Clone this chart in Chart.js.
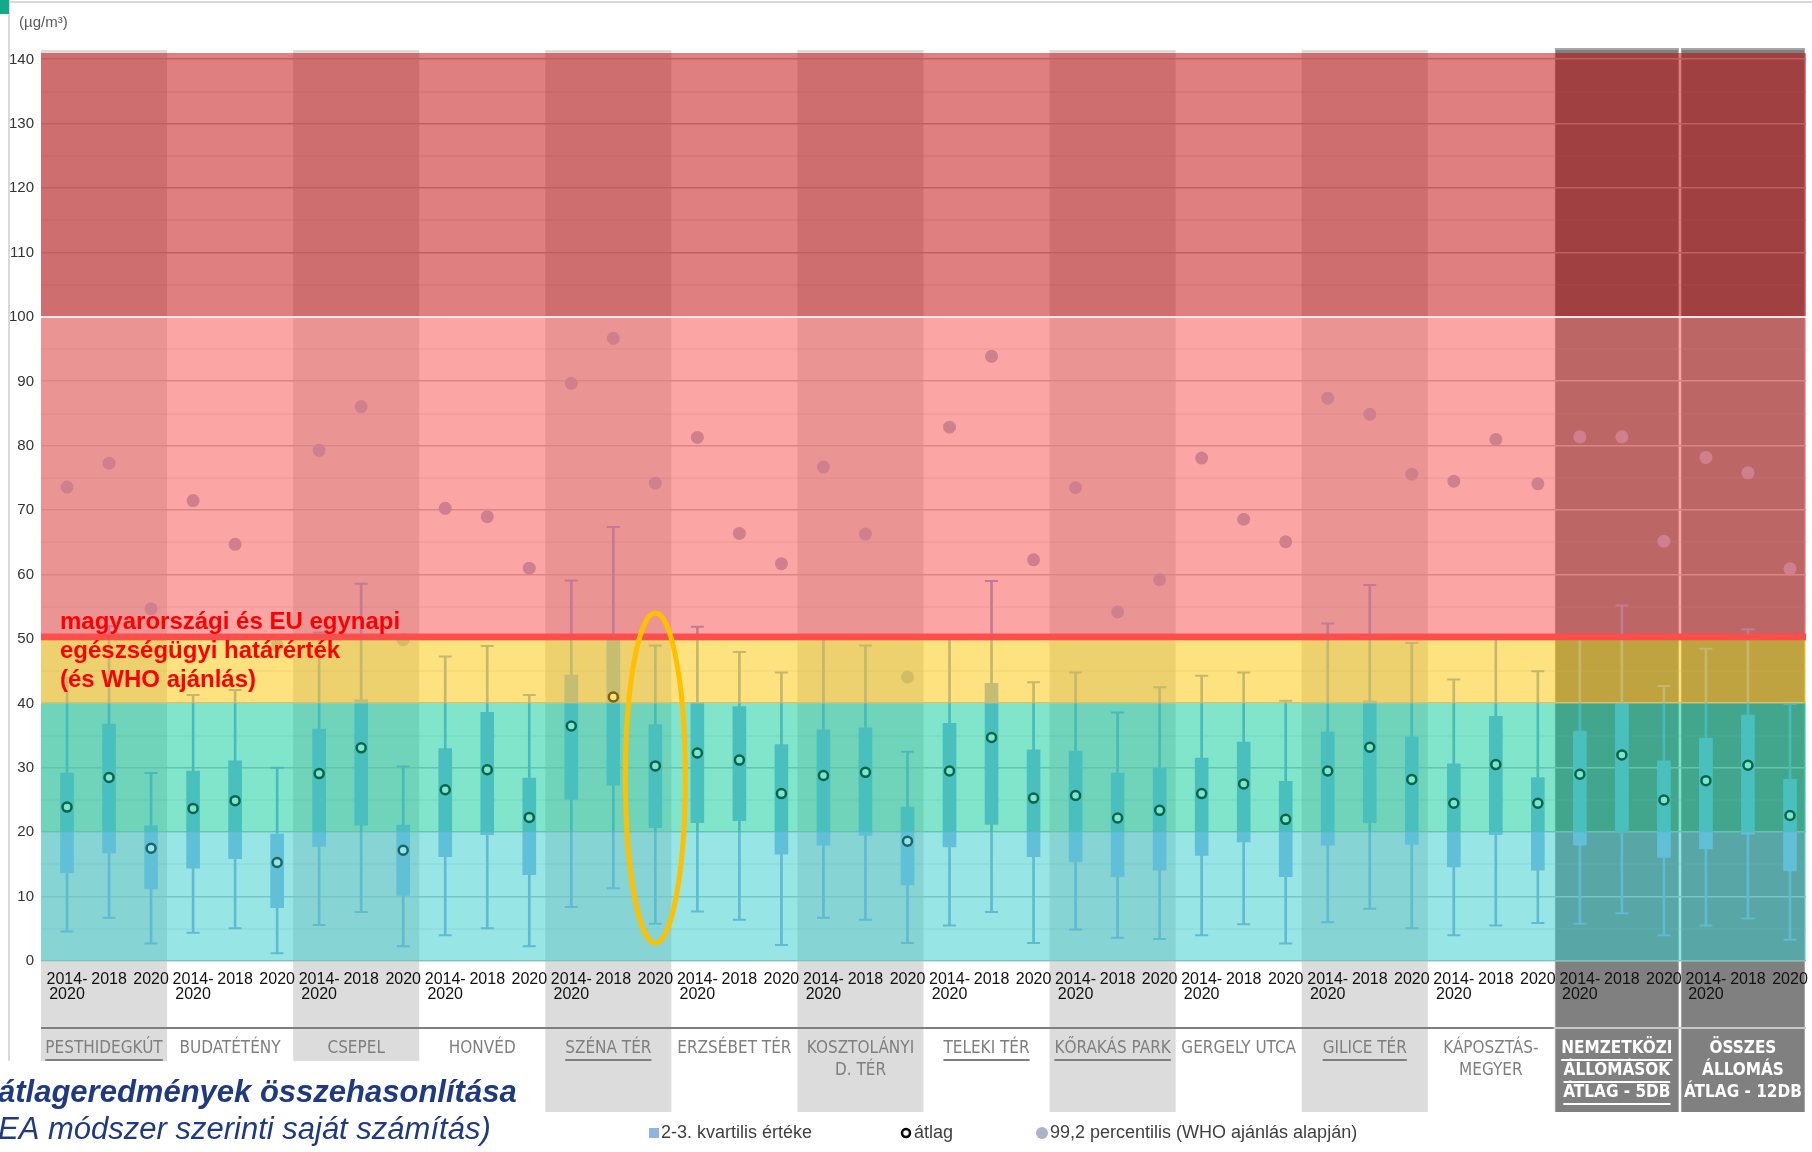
<!DOCTYPE html>
<html lang="hu">
<head>
<meta charset="utf-8">
<title>PM10 napi átlageredmények</title>
<script src="https://cdn.jsdelivr.net/npm/chart.js@4.4.1/dist/chart.umd.min.js"></script>
<style>
  html, body { margin: 0; padding: 0; background: #fff; }
  #chart { display: block; }
</style>
</head>
<body>
<canvas id="chart" width="1812" height="1152"></canvas>
<script>
// állomások (3 oszlop / állomás)
const stations = [
    ['PESTHIDEGKÚT'], ['BUDATÉTÉNY'], ['CSEPEL'], ['HONVÉD'], ['SZÉNA TÉR'],
    ['ERZSÉBET TÉR'], ['KOSZTOLÁNYI', 'D. TÉR'], ['TELEKI TÉR'], ['KŐRAKÁS PARK'],
    ['GERGELY UTCA'], ['GILICE TÉR'], ['KÁPOSZTÁS-', 'MEGYER'],
    ['NEMZETKÖZI', 'ÁLLOMÁSOK', 'ÁTLAG - 5DB'], ['ÖSSZES', 'ÁLLOMÁS', 'ÁTLAG - 12DB']
];
const underlined = ['PESTHIDEGKÚT', 'SZÉNA TÉR', 'TELEKI TÉR', 'KŐRAKÁS PARK', 'GILICE TÉR', 'NEMZETKÖZI'];
const periods = [['2014-', '2020'], '2018', '2020'];
const yTicks = [0, 10, 20, 30, 40, 50, 60, 70, 80, 90, 100, 110, 120, 130, 140];

// whisker alja / teteje
const lows = [4.6, 6.7, 2.7, 4.4, 5.1, 1.2, 5.6, 7.6, 2.3, 4.0, 5.1, 2.3, 8.4, 11.3, 5.8, 7.7, 6.4, 2.5, 6.7, 6.4, 2.8,
    5.5, 7.6, 2.8, 4.9, 3.6, 3.4, 4.0, 5.7, 2.7, 6.0, 8.1, 5.1, 4.0, 5.5, 5.9, 5.8, 7.4, 4.0, 5.5, 6.6, 3.3];
const highs = [44, 52, 29.2, 41.3, 42.1, 30.0, 51, 58.6, 30.2, 47.3, 48.9, 41.3, 59.1, 67.4, 49.0, 51.9, 48.0, 44.8, 50.5, 49.0, 32.5,
    50.5, 59.0, 43.3, 44.8, 38.6, 42.5, 44.3, 44.8, 40.4, 52.4, 58.4, 49.4, 43.7, 50.5, 45.0, 50.5, 55.2, 42.7, 48.5, 51.5, 39.9];
// 2-3. kvartilis
const q1 = [13.7, 16.8, 11.2, 14.4, 15.9, 8.3, 17.8, 21.1, 10.2, 16.2, 19.6, 13.4, 25.1, 27.3, 20.7, 21.5, 21.8, 16.6, 18.0, 19.5, 11.8,
    17.7, 21.2, 16.2, 15.4, 13.1, 14.1, 16.4, 18.5, 13.1, 18.0, 21.5, 18.1, 14.6, 19.6, 14.1, 18.0, 20.1, 16.1, 17.4, 19.7, 14.0];
const q3 = [29.2, 36.8, 21.0, 29.5, 31.1, 19.7, 36.0, 40.6, 21.1, 33.0, 38.6, 28.4, 44.4, 50.3, 36.7, 40.1, 39.5, 33.6, 35.9, 36.2, 23.9,
    36.9, 43.1, 32.8, 32.6, 29.2, 29.9, 31.5, 34.0, 27.9, 35.6, 40.4, 34.8, 30.6, 38.0, 28.5, 35.7, 40.0, 31.1, 34.6, 38.2, 28.2];
// átlag
const means = [23.9, 28.5, 17.5, 23.7, 24.9, 15.3, 29.1, 33.1, 17.2, 26.6, 29.7, 22.3, 36.5, 41.0, 30.3, 32.3, 31.2, 26.0, 28.8, 29.3, 18.6,
    29.5, 34.7, 25.3, 25.7, 22.2, 23.4, 26.0, 27.5, 22.0, 29.5, 33.2, 28.2, 24.5, 30.5, 24.5, 29.0, 32.0, 25.0, 28.0, 30.4, 22.6];
// 99,2 percentilis
const p992 = [73.6, 77.3, 54.7, 71.5, 64.7, 49.0, 79.3, 86.1, 49.9, 70.3, 69.0, 61.0, 89.7, 96.7, 74.2, 81.3, 66.4, 61.7, 76.7, 66.3, 44.1,
    82.9, 93.9, 62.3, 73.5, 54.2, 59.2, 78.1, 68.6, 65.1, 87.4, 84.9, 75.6, 74.5, 81.0, 74.1, 81.4, 81.4, 65.2, 78.2, 75.8, 60.9];

// háttérsávok (félig átlátszó, minden fölé rajzolva)
const bands = [
    { from: 0, to: 20, color: 'rgba(49,203,203,0.5)' },
    { from: 20, to: 40, color: 'rgba(3,203,154,0.5)' },
    { from: 40, to: 50, color: 'rgba(251,197,0,0.5)' },
    { from: 50, to: 100, color: 'rgba(249,76,76,0.5)' },
    { from: 100, to: 141, color: 'rgba(192,0,0,0.5)' }
];

const FONT = '"Liberation Sans", Arial, sans-serif';
const NARROW = '"Liberation Sans Narrow", "DejaVu Sans Condensed", "Liberation Sans", sans-serif';
const SHIFT = 5; // a háttér kicsit balra csúszik a kategóriákhoz képest

class Main {
    constructor() {
        this.canvas = document.getElementById('chart');
        this.labels = [];
        stations.forEach(() => periods.forEach(p => this.labels.push(p)));
        this.initChart();
    }

    groupEdges(chart, g) {
        const x = chart.scales.x;
        const step = x.getPixelForValue(1) - x.getPixelForValue(0);
        return [x.getPixelForValue(g * 3) - step / 2 - SHIFT, x.getPixelForValue(g * 3 + 2) + step / 2 - SHIFT];
    }

    backgroundPlugin() {
        const self = this;
        return {
            id: 'background',
            beforeDraw(chart) {
                const ctx = chart.ctx;
                const a = chart.chartArea;
                ctx.save();
                ctx.fillStyle = '#fff';
                ctx.fillRect(0, 0, chart.width, chart.height);
                // keret
                ctx.fillStyle = '#d9d9d9';
                ctx.fillRect(8, 0, 2, 1061);
                ctx.fillRect(8, 1, chart.width - 8, 2);
                ctx.fillStyle = '#13a98b';
                ctx.fillRect(0, 0, 9, 14);
                // oszlopcsoportok
                stations.forEach((s, g) => {
                    const [x0, x1] = self.groupEdges(chart, g);
                    if (g >= 12) {
                        ctx.fillStyle = '#a6a6a6';
                        ctx.fillRect(x0 + 1, 48, x1 - x0 - 2, 1064);
                        ctx.fillStyle = '#808080';
                        ctx.fillRect(x0 + 2, 50, x1 - x0 - 4, 1062);
                    } else if (g % 2 === 0) {
                        ctx.fillStyle = '#dcdcdc';
                        ctx.fillRect(x0, 50, x1 - x0, 1062);
                    }
                });
                const left = a.left - SHIFT;
                const split = self.groupEdges(chart, 12)[0];
                ctx.fillStyle = '#7f7f7f';
                ctx.fillRect(left, 1027, split - left, 2);
                ctx.fillStyle = '#c8c8c8';
                ctx.fillRect(split, 1027, a.right - SHIFT - split, 2);
                ctx.restore();
            }
        };
    }

    // rácsvonalak a y tengely osztásaiból, a háttérrel együtt eltolva
    gridPlugin() {
        return {
            id: 'shiftedGrid',
            beforeDatasetsDraw(chart) {
                const { ctx, chartArea: a, scales: { y } } = chart;
                ctx.save();
                y.ticks.forEach(t => {
                    const major = t.value % 10 === 0;
                    const py = Math.round(y.getPixelForValue(t.value));
                    ctx.fillStyle = major ? '#bfbfbf' : 'rgba(170,170,170,0.35)';
                    ctx.fillRect(a.left - SHIFT, py - (major ? 1 : 0.5), a.width, major ? 1.5 : 1);
                });
                ctx.restore();
            }
        };
    }

    overlayPlugin() {
        return {
            id: 'overlay',
            afterDatasetsDraw(chart) {
                const { ctx, chartArea: a, scales: { x, y } } = chart;
                const left = a.left - SHIFT;
                ctx.save();
                bands.forEach(b => {
                    const top = y.getPixelForValue(b.to);
                    const bottom = y.getPixelForValue(b.from);
                    ctx.fillStyle = b.color;
                    ctx.fillRect(left, top, a.width, bottom - top);
                });
                ctx.fillStyle = 'rgba(255,255,255,0.85)';
                ctx.fillRect(left, y.getPixelForValue(100) - 1, a.width, 2);

                // határérték vonal
                const t = y.getPixelForValue(50.85);
                ctx.fillStyle = '#ff4d4d';
                ctx.fillRect(left, t, a.width, y.getPixelForValue(49.8) - t);

                const y50 = y.getPixelForValue(50);
                ctx.fillStyle = '#ff0000';
                ctx.font = 'bold 24px ' + FONT;
                ctx.textBaseline = 'alphabetic';
                ctx.fillText('magyarországi és EU egynapi', left + 19, y50 - 10);
                ctx.fillText('egészségügyi határérték', left + 19, y50 + 19);
                ctx.fillText('(és WHO ajánlás)', left + 19, y50 + 48);

                // kiemelés
                ctx.strokeStyle = '#ffc000';
                ctx.lineWidth = 5;
                ctx.beginPath();
                ctx.ellipse(x.getPixelForValue(14), y.getPixelForValue(28.4), 30, 165, 0, 0, Math.PI * 2);
                ctx.stroke();
                ctx.restore();
            }
        };
    }

    labelsPlugin() {
        const self = this;
        return {
            id: 'groupLabels',
            afterDraw(chart) {
                const ctx = chart.ctx;
                ctx.save();
                ctx.textAlign = 'center';
                ctx.textBaseline = 'middle';
                stations.forEach((lines, g) => {
                    const [x0, x1] = self.groupEdges(chart, g);
                    const cx = (x0 + x1) / 2;
                    const dark = g >= 12;
                    ctx.font = (dark ? 'bold ' : '') + '17px ' + NARROW;
                    ctx.fillStyle = dark ? '#ffffff' : '#7f7f7f';
                    const under = underlined.includes(lines[0]);
                    lines.forEach((line, i) => {
                        const ly = 1049 + i * 22;
                        ctx.fillText(line, cx, ly);
                        if (under) {
                            const w = ctx.measureText(line).width;
                            ctx.fillRect(cx - w / 2, ly + 10, w, 2);
                        }
                    });
                });

                // cím doboz
                ctx.fillStyle = '#fff';
                ctx.fillRect(0, 1061, 545, 91);
                ctx.textAlign = 'left';
                ctx.textBaseline = 'alphabetic';
                ctx.fillStyle = '#1f3a80';
                ctx.font = 'italic bold 31px ' + FONT;
                ctx.fillText('átlageredmények összehasonlítása', -2, 1102);
                ctx.font = 'italic 31px ' + FONT;
                ctx.fillText('EA módszer szerinti saját számítás)', -2, 1139);

                // jelmagyarázat
                ctx.font = '18px ' + FONT;
                ctx.textBaseline = 'middle';
                const ly = 1133;
                ctx.fillStyle = '#8fb4e3';
                ctx.fillRect(649, ly - 5, 10, 10);
                ctx.fillStyle = '#404040';
                ctx.fillText('2-3. kvartilis értéke', 661, ly);
                ctx.beginPath();
                ctx.arc(906, ly, 4, 0, Math.PI * 2);
                ctx.fillStyle = '#fff';
                ctx.fill();
                ctx.lineWidth = 2.5;
                ctx.strokeStyle = '#000';
                ctx.stroke();
                ctx.fillStyle = '#404040';
                ctx.fillText('átlag', 914, ly);
                ctx.beginPath();
                ctx.arc(1042, ly, 6, 0, Math.PI * 2);
                ctx.fillStyle = '#a9b4c8';
                ctx.fill();
                ctx.fillStyle = '#404040';
                ctx.fillText('99,2 percentilis (WHO ajánlás alapján)', 1050, ly);

                // mértékegység
                ctx.font = '15px ' + FONT;
                ctx.fillStyle = '#595959';
                ctx.fillText('(µg/m³)', 19, 23);
                ctx.restore();
            }
        };
    }

    initChart() {
        const config = {
            type: 'bar',
            data: {
                labels: this.labels,
                datasets: [
                    {
                        label: 'whisker',
                        data: lows.map((v, i) => [v, highs[i]]),
                        backgroundColor: '#8aaad8',
                        barThickness: 2,
                        grouped: false,
                        order: 5
                    },
                    {
                        type: 'line',
                        label: 'cap low',
                        data: lows,
                        showLine: false,
                        pointStyle: 'line',
                        pointRadius: 6.5,
                        borderWidth: 2,
                        borderColor: '#8aaad8',
                        order: 4
                    },
                    {
                        type: 'line',
                        label: 'cap high',
                        data: highs,
                        showLine: false,
                        pointStyle: 'line',
                        pointRadius: 6.5,
                        borderWidth: 2,
                        borderColor: '#8aaad8',
                        order: 4
                    },
                    {
                        label: '2-3. kvartilis értéke',
                        data: q1.map((v, i) => [v, q3[i]]),
                        backgroundColor: '#8fb4e3',
                        barThickness: 13,
                        grouped: false,
                        order: 3
                    },
                    {
                        type: 'line',
                        label: '99,2 percentilis',
                        data: p992,
                        showLine: false,
                        pointRadius: 6.5,
                        pointBackgroundColor: '#a6b5cd',
                        pointBorderWidth: 0,
                        order: 2
                    },
                    {
                        type: 'line',
                        label: 'átlag',
                        data: means,
                        showLine: false,
                        pointRadius: 4.5,
                        pointBackgroundColor: '#ffffff',
                        pointBorderColor: '#000000',
                        pointBorderWidth: 2.5,
                        order: 1
                    }
                ]
            },
            options: {
                responsive: false,
                animation: false,
                devicePixelRatio: 1,
                layout: { autoPadding: false, padding: { top: 53, right: 1, left: 0, bottom: 0 } },
                plugins: {
                    legend: { display: false },
                    tooltip: { enabled: false }
                },
                scales: {
                    x: {
                        grid: { display: false, drawTicks: false },
                        border: { display: false },
                        ticks: {
                            color: '#111',
                            font: { family: FONT, size: 16, lineHeight: 0.95 },
                            padding: 11,
                            maxRotation: 0,
                            autoSkip: false
                        },
                        afterFit: s => {
                            s.height = 191;
                            s.paddingLeft = 0;
                            s.paddingRight = 0;
                        }
                    },
                    y: {
                        min: 0,
                        max: 141,
                        border: { display: false },
                        grid: { display: false, drawTicks: false },
                        ticks: {
                            padding: 12,
                            color: '#333',
                            font: { family: FONT, size: 15 },
                            callback: v => yTicks.includes(v) ? v : ''
                        },
                        afterBuildTicks: s => {
                            s.ticks = [];
                            for (let v = 0; v <= 140; v += 5) s.ticks.push({ value: v });
                        },
                        afterFit: s => { s.width = 46; }
                    }
                }
            },
            plugins: [this.backgroundPlugin(), this.gridPlugin(), this.overlayPlugin(), this.labelsPlugin()]
        };
        this.chart = new Chart(this.canvas, config);
    }
}

window.onload = () => {
    new Main();
}
</script>
</body>
</html>
